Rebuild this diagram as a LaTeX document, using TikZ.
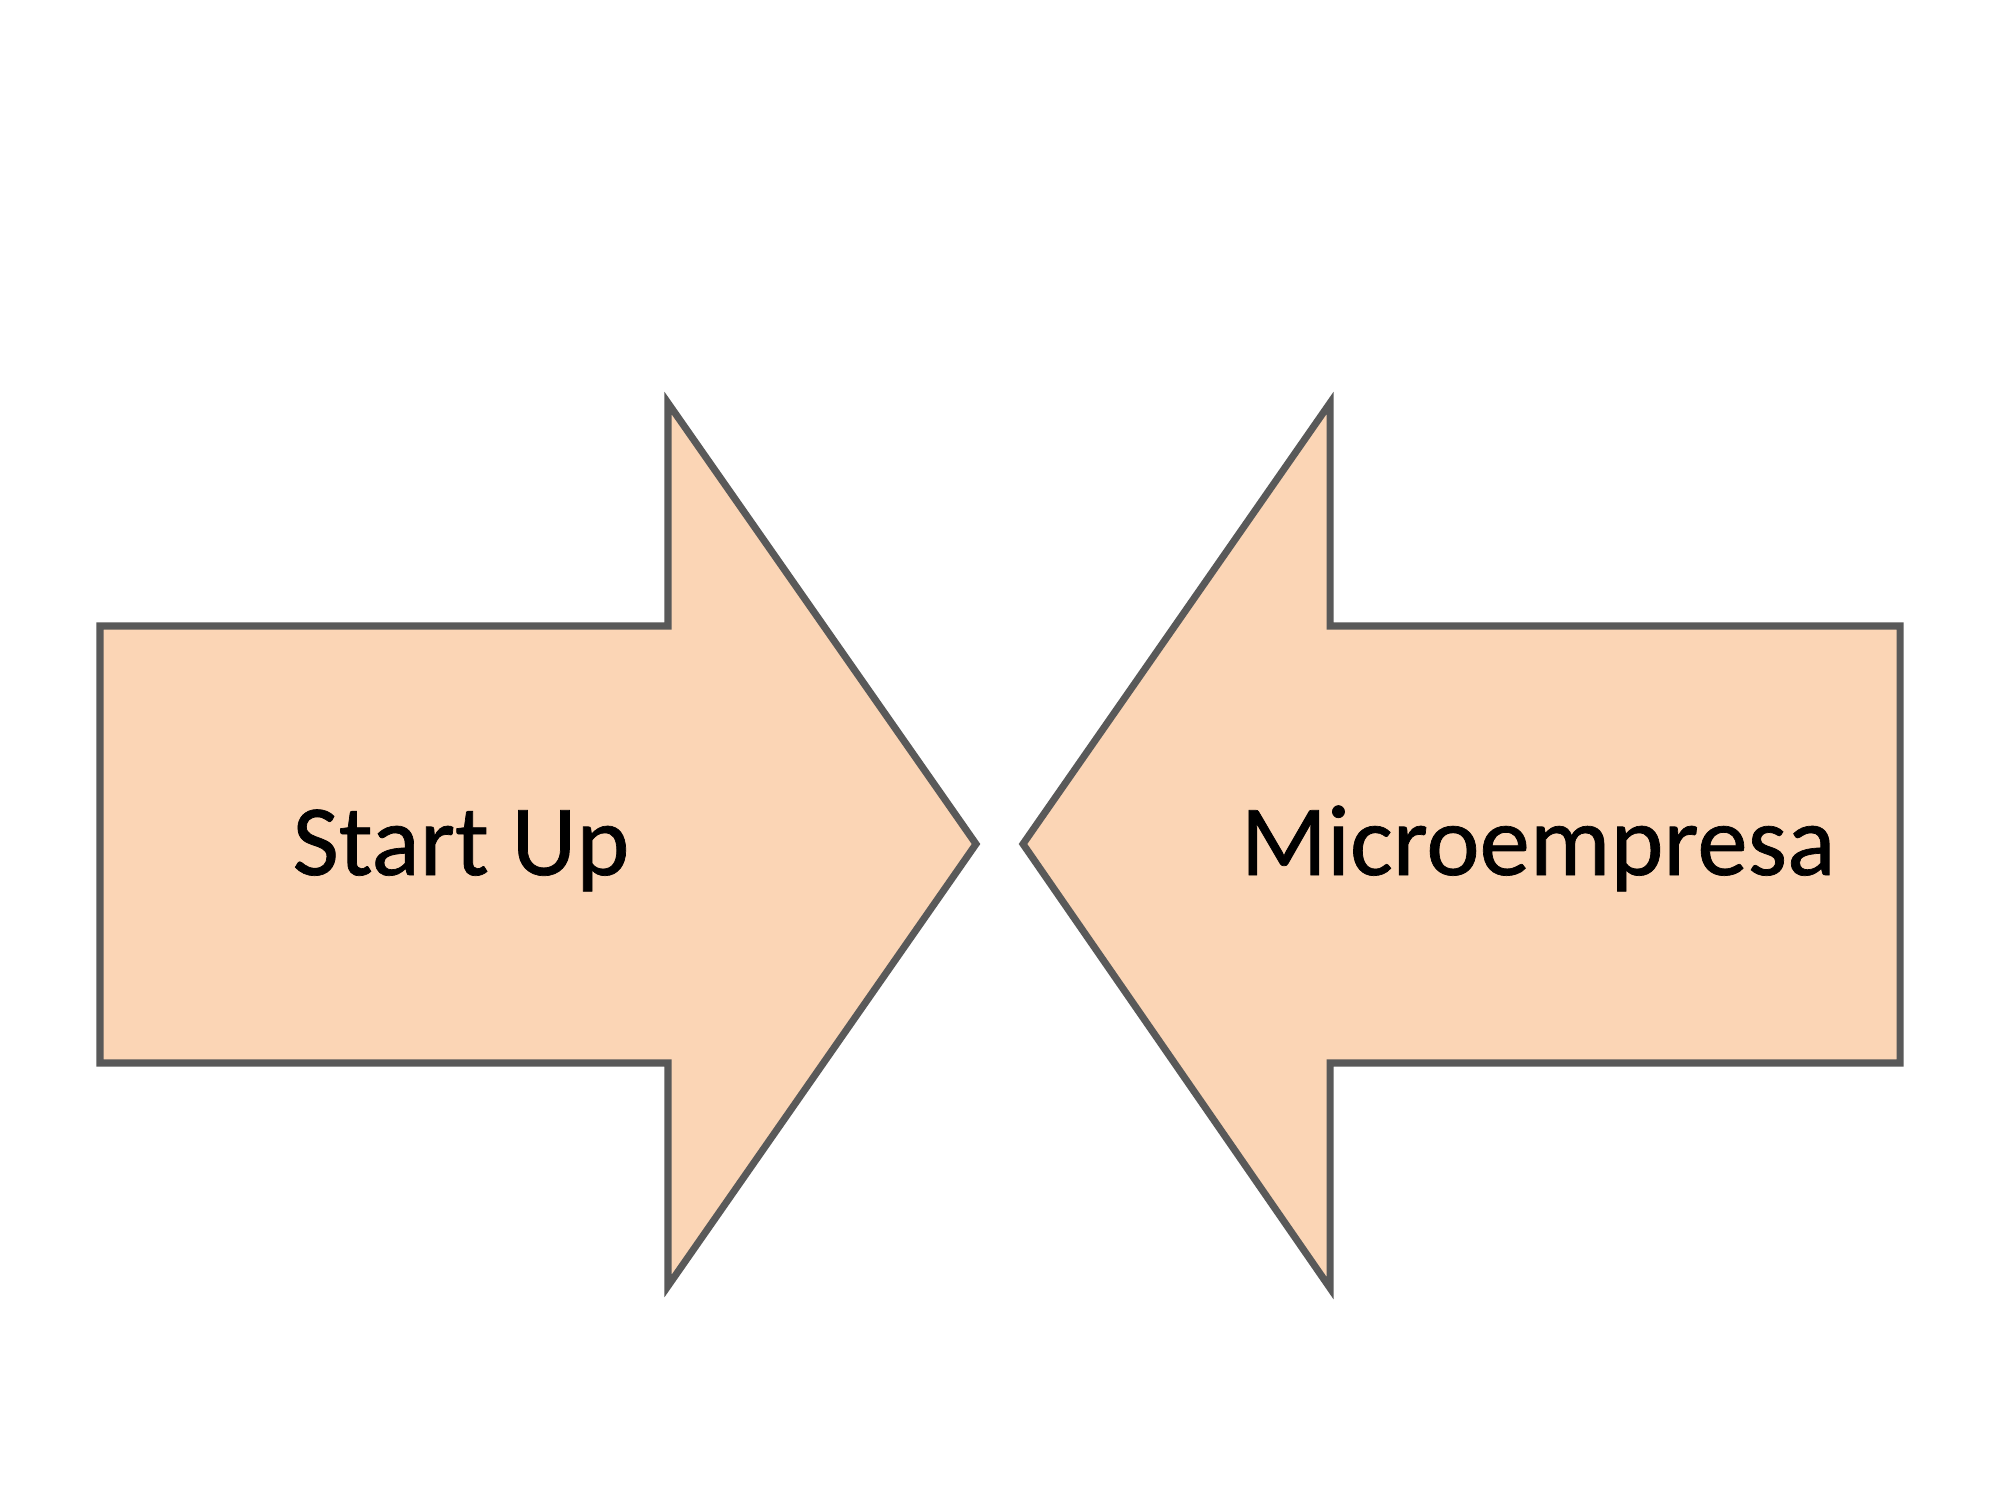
\documentclass[tikz,border=0pt]{standalone}
\usepackage{fontspec}
\setmainfont{Carlito}
\newfontfamily\lblfont[RawFeature={embolden=0.7}]{Carlito}
\definecolor{arrowfill}{HTML}{FBD5B5}
\definecolor{arrowline}{HTML}{595959}
\begin{document}
\begin{tikzpicture}[x=0.01cm,y=-0.01cm,
  arrowshape/.style={fill=arrowfill,draw=arrowline,line width=2pt,line join=miter},
  lbl/.style={font=\lblfont\fontsize{28.7pt}{34pt}\selectfont,text=black,anchor=base,inner sep=0pt}]
\useasboundingbox[fill=white] (0,0) rectangle (2000,1500);
\draw[arrowshape] (100,626) -- (668,626) -- (668,403) -- (976,844) -- (668,1286) -- (668,1063) -- (100,1063) -- cycle;
\draw[arrowshape] (1900,626) -- (1330,626) -- (1330,403) -- (1023,844) -- (1330,1288) -- (1330,1063) -- (1900,1063) -- cycle;
\node[lbl] (startup) at (461,875) {Start Up};
\node[lbl] (micro) at (1538,875) {Microempresa};
\end{tikzpicture}
\end{document}
